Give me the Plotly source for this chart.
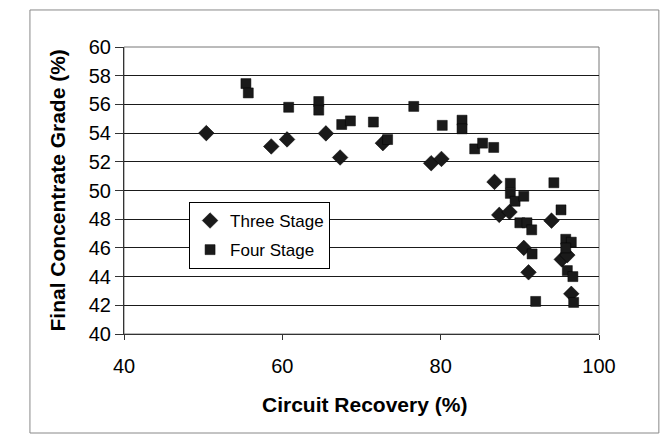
import plotly.graph_objs as go

# Three stage circuits (diamonds)
three_recovery = [50.4, 58.6, 60.6, 65.5, 67.3, 72.7, 78.8, 80.1, 86.8, 87.4,
                  88.7, 94.0, 90.5, 91.1, 95.3, 96.0, 96.5]
three_grade = [54.0, 53.07, 53.56, 53.98, 52.3, 53.3, 51.9, 52.2, 50.6, 48.3,
               48.5, 47.9, 46.0, 44.3, 45.2, 45.5, 42.8]

# Four stage circuits (squares)
four_recovery = [55.4, 55.7, 60.8, 64.6, 64.6, 67.5, 68.6, 71.5, 73.3, 76.6,
                 80.2, 82.7, 82.7, 84.3, 85.3, 86.7, 88.8, 88.8, 89.4, 90.5,
                 94.3, 95.2, 90.0, 90.9, 91.5, 91.55, 92.0, 95.8, 96.5, 95.8,
                 96.0, 96.7, 96.8]
four_grade = [57.45, 56.8, 55.8, 56.2, 55.6, 54.6, 54.85, 54.77, 53.55, 55.86,
              54.54, 54.9, 54.3, 52.9, 53.3, 53.0, 50.5, 49.8, 49.25, 49.6,
              50.54, 48.65, 47.75, 47.75, 47.26, 45.58, 42.27, 46.6, 46.4, 46.0,
              44.42, 44.0, 42.2]

font_family = "Liberation Sans, Arial, sans-serif"

fig = go.Figure()
fig.add_trace(go.Scatter(
    x=three_recovery, y=three_grade, mode="markers", name="Three Stage",
    legendgroup="three",
    marker=dict(symbol="diamond", size=12, color="#1a1a1a",
                line=dict(color="black", width=0.5)),
))
fig.add_trace(go.Scatter(
    x=four_recovery, y=four_grade, mode="markers", name="Four Stage",
    legendgroup="four",
    marker=dict(symbol="square", size=10, color="#1a1a1a",
                line=dict(color="black", width=0.5)),
))

axis_common = dict(
    zeroline=False, automargin=False,
    showline=True, linecolor="#333", linewidth=1,
    ticks="outside", tickcolor="#333",
    tickfont=dict(size=20, color="black"),
)

fig.update_layout(
    width=667, height=436,
    paper_bgcolor="white",
    plot_bgcolor="white",
    margin=dict(l=124, r=68, t=47, b=102),
    font=dict(family=font_family, color="black"),
    showlegend=True,
    legend=dict(
        x=0.137, y=0.46, xanchor="left", yanchor="top",
        bgcolor="white", bordercolor="black", borderwidth=1,
        font=dict(size=17, family=font_family),
        itemwidth=30, tracegroupgap=4,
    ),
    xaxis=dict(range=[40, 100], dtick=20, tick0=40, showgrid=False,
               ticklen=5, ticklabelstandoff=9, **axis_common),
    yaxis=dict(range=[40, 60], dtick=2, tick0=40, showgrid=True,
               gridcolor="#1a1a1a", gridwidth=1, ticklen=8, **axis_common),
    annotations=[
        dict(text="<b>Circuit Recovery (%)</b>", xref="paper", yref="paper",
             x=0.507, y=-0.244, xanchor="center", yanchor="middle",
             showarrow=False, font=dict(size=21)),
        dict(text="<b>Final Concentrate Grade (%)</b>", xref="paper", yref="paper",
             x=-0.141, y=0.5, xanchor="center", yanchor="middle",
             textangle=-90, showarrow=False, font=dict(size=21)),
    ],
    shapes=[
        # plot area top/right border
        dict(type="rect", xref="paper", yref="paper", x0=0, y0=0, x1=1, y1=1,
             line=dict(color="#777", width=1), layer="below"),
        # outer chart frame
        dict(type="rect", xref="paper", yref="paper", x0=-0.198, y0=-0.345,
             x1=1.126, y1=1.129, line=dict(color="#888", width=1)),
    ],
)

# drop the default page margin so the figure sits at the window origin
fig.write_html("out.html", config=dict(displayModeBar=False),
               post_script="document.body.style.margin='0';")
